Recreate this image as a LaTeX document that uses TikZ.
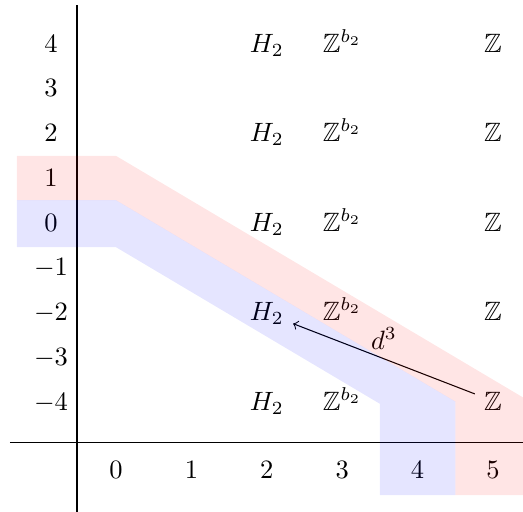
\documentclass[tikz,border=0pt]{standalone}
\usepackage{amsmath}
\usepackage{amssymb}
\usetikzlibrary{calc}

\begin{document}
\begin{tikzpicture}[x=1cm, y=0.5935cm,
    entry/.style={anchor=base},
    band/.style={fill opacity=0.1}]
    \useasboundingbox (-1.538,-6.258) rectangle (5.398,5.163);

    % axes
    \draw (-1.406,-4.72) coordinate (L) -- (5.45,-4.72) coordinate (R);
    \draw (-0.517,5.05) coordinate (T) -- (-0.517,-6.3) coordinate (D);

    % degrees
    \foreach \q in {-4,...,4}
        \node[entry] (q\q) at (-0.862,\q) {$\q$};
    \foreach \p in {0,...,5}
        \node[entry] (p\p) at (\p,-5.52) {$\p$};

    % the page
    \foreach \q in {-4,-2,...,4} {
        \node[entry] (h\q) at (2,\q) {$H_2$};
        \node[entry] (z\q) at (3,\q) {$\mathbb{Z}^{b_2}$};
        \node[entry] (u\q) at (5,\q) {$\mathbb{Z}$};
    }

    \draw[->] (u-4) -- node[above] {$d^3$} (h-2);

    % total degree 1 and 0
    \fill[red, band] (-1.313,1.68) -- (0,1.68) -- (5.5,-3.82) -- (5.5,-5.9)
        -- (4.5,-5.9) -- (4.5,-3.81) -- (0,0.69) -- (-1.313,0.69) -- cycle;
    \fill[blue, band] (-1.313,0.69) -- (0,0.69) -- (4.5,-3.81) -- (4.5,-5.9)
        -- (3.5,-5.9) -- (3.5,-3.86) -- (0,-0.36) -- (-1.313,-0.36) -- cycle;
\end{tikzpicture}
\end{document}
